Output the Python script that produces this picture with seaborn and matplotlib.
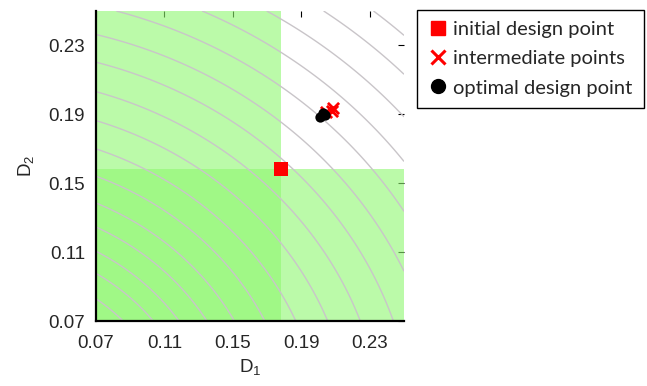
import numpy as np
import pandas as pd
import matplotlib
matplotlib.use("Agg")
import matplotlib.pyplot as plt
from matplotlib.lines import Line2D
import seaborn as sns

# design variables: axis range and ticks
ticks = [0.07, 0.11, 0.15, 0.19, 0.23]
tick_labels = ["0.07", "0.11", "0.15", "0.19", "0.23"]
lim = (0.07, 0.25)

# design points
initial_d1 = [0.178]
initial_d2 = [0.158]
intermediate_d1 = [0.2047, 0.2082, 0.2085]
intermediate_d2 = [0.1912, 0.1917, 0.1935]
optimal_d1 = [0.2024, 0.2012, 0.2041]
optimal_d2 = [0.1910, 0.1883, 0.1895]

# objective: sqrt(w * D1^2 + D2^2), drawn at these levels
d1_weight = 0.8
contour_levels = [0.1039, 0.1160, 0.1270, 0.1394, 0.1520, 0.1663, 0.1811,
                  0.1966, 0.2126, 0.2290, 0.2445, 0.2605, 0.2765, 0.2925,
                  0.3090, 0.3250]

sns.set_theme(style="white")
plt.rcParams["font.family"] = ["Liberation Sans", "DejaVu Sans"]
plt.rcParams["mathtext.default"] = "regular"

fig = plt.figure(figsize=(6.47, 3.86), dpi=100)
ax = fig.add_axes([96 / 647, 65 / 386, 308 / 647, 310 / 386])
ax.set_xlim(*lim)
ax.set_ylim(*lim)

# regions dominated by the initial design (semi-transparent, overlap darker)
green = (0.56, 0.97, 0.44)
ax.axvspan(lim[0], initial_d1[0], color=green, alpha=0.6, lw=0, zorder=1)
ax.axhspan(lim[0], initial_d2[0], color=green, alpha=0.6, lw=0, zorder=1)

# contour lines of the objective
g = np.linspace(lim[0], lim[1], 500)
X, Y = np.meshgrid(g, g)
F = np.sqrt(d1_weight * X ** 2 + Y ** 2)
ax.contour(X, Y, F, levels=contour_levels, colors="#c9c5c9",
           linewidths=1.0, zorder=2)

pts_init = pd.DataFrame({"D1": initial_d1, "D2": initial_d2})
pts_mid = pd.DataFrame({"D1": intermediate_d1, "D2": intermediate_d2})
pts_opt = pd.DataFrame({"D1": optimal_d1, "D2": optimal_d2})

sns.scatterplot(data=pts_init, x="D1", y="D2", marker="s", s=105,
                color="red", linewidth=0, ax=ax, zorder=4)
sns.scatterplot(data=pts_mid, x="D1", y="D2", marker="x", s=65,
                color="red", linewidth=2, ax=ax, zorder=4)
sns.scatterplot(data=pts_opt, x="D1", y="D2", marker="o", s=55,
                color="black", linewidth=0, ax=ax, zorder=5)

ax.set_xticks(ticks)
ax.set_xticklabels(tick_labels)
ax.set_yticks(ticks)
ax.set_yticklabels(tick_labels)
ax.set_axisbelow(True)
ax.tick_params(direction="in", length=4, width=0.8, color="black",
               top=True, right=True, labelsize=13.5, pad=8)
ax.tick_params(axis="x", pad=10)

for side in ("top", "right"):
    ax.spines[side].set_visible(False)
for side in ("left", "bottom"):
    ax.spines[side].set_color("black")
    ax.spines[side].set_linewidth(1.6)
    ax.spines[side].set_zorder(6)

ax.set_xlabel(r"$D_1$", fontsize=13.5, labelpad=4)
ax.set_ylabel(r"$D_2$", fontsize=13.5, labelpad=9)

handles = [
    Line2D([], [], ls="none", marker="s", ms=10, color="red", mec="red"),
    Line2D([], [], ls="none", marker="x", ms=10, mew=2.2, color="red"),
    Line2D([], [], ls="none", marker="o", ms=10, color="black"),
]
labels = ["initial design point", "intermediate points", "optimal design point"]
leg = fig.legend(handles, labels, loc="upper left",
                 bbox_to_anchor=(417 / 647, 1 - 10 / 386), borderaxespad=0,
                 frameon=True, fancybox=False, framealpha=1,
                 edgecolor="black", handlelength=1.0, handletextpad=0.25,
                 borderpad=0.55, labelspacing=0.6,
                 prop={"family": ["Lato", "DejaVu Sans"], "size": 14.5})
leg.get_frame().set_linewidth(1.0)

fig.savefig("out.png", dpi=100)
